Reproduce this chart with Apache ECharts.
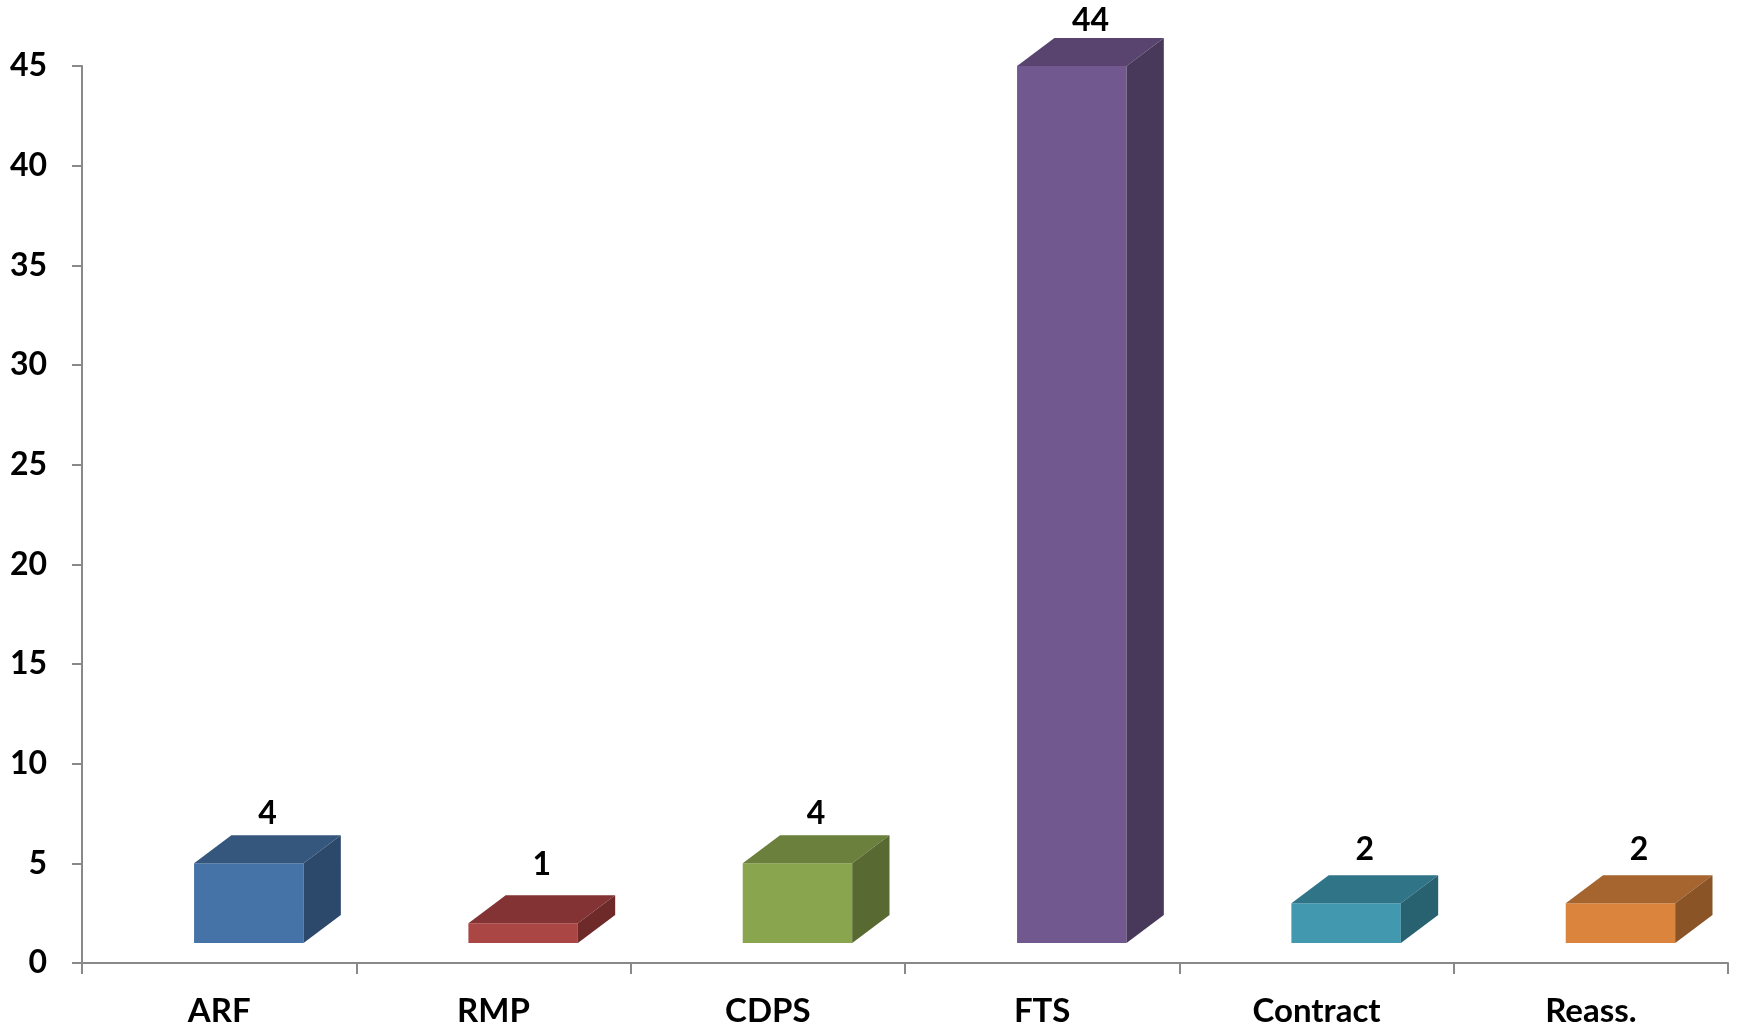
<!DOCTYPE html>
<html>
<head>
<meta charset="utf-8">
<script src="https://cdn.jsdelivr.net/npm/echarts@6/dist/echarts.min.js"></script>
<style>
html,body{margin:0;padding:0;background:#fff;}
#chart{width:1739px;height:1029px;}
</style>
</head>
<body>
<div id="chart"></div>
<script>
const categories = ['ARF', 'RMP', 'CDPS', 'FTS', 'Contract', 'Reass.'];
const values = [4, 1, 4, 44, 2, 2];
const yTicks = [0, 5, 10, 15, 20, 25, 30, 35, 40, 45];

const frontColors = ['#4572A7', '#AA4643', '#89A54E', '#71588F', '#4198AF', '#DB843D'];
const topColors   = ['#35577D', '#833333', '#6A803C', '#58446F', '#307587', '#A6642E'];
const sideColors  = ['#2C496C', '#6E2A29', '#586A31', '#48395B', '#28616F', '#8A5427'];

const FONT = 'Lato, "Open Sans", "DejaVu Sans", sans-serif';

const chart = echarts.init(document.getElementById('chart'));

function renderItem(params, api) {
  const i = api.value(0);
  const v = api.value(1);
  const p0 = api.coord([i, 0]);
  const pv = api.coord([i, v]);
  const band = api.size([1, 0])[0];
  const unit = api.size([0, 1])[1];
  const left = p0[0] - band * 0.5 + band * 0.4085;
  const w = band * 0.399;
  const right = left + w;
  const fb = p0[1] - unit;
  const ft = pv[1] - unit;
  const dx = band * 0.136;
  const dy = 28;
  const labelGap = 16.5 + 14 / Math.pow(Math.max(v, 0.5), 0.7);
  return {
    type: 'group',
    children: [
      { type: 'rect', shape: { x: left, y: ft, width: w, height: fb - ft },
        style: { fill: frontColors[i] } },
      { type: 'polygon', shape: { points: [[left, ft], [right, ft], [right + dx, ft - dy], [left + dx, ft - dy]] },
        style: { fill: topColors[i] } },
      { type: 'polygon', shape: { points: [[right, ft], [right + dx, ft - dy], [right + dx, fb - dy], [right, fb]] },
        style: { fill: sideColors[i] } },
      { type: 'text', style: { text: String(v), x: left + (w + dx) / 2, y: ft - dy - labelGap,
        align: 'center', verticalAlign: 'middle', fill: '#000',
        font: 'bold 32px ' + FONT } }
    ]
  };
}

chart.setOption({
  animation: false,
  backgroundColor: '#fff',
  grid: { left: 82, right: 11, top: 66, bottom: 66, containLabel: false },
  xAxis: {
    type: 'category',
    data: categories,
    boundaryGap: true,
    axisLine: { lineStyle: { color: '#898989', width: 2 } },
    axisTick: { show: true, length: 11, lineStyle: { color: '#898989', width: 2 } },
    axisLabel: { margin: 32, color: '#000', fontFamily: FONT, fontWeight: 'bold', fontSize: 33 },
    splitLine: { show: false }
  },
  yAxis: {
    type: 'value',
    min: yTicks[0],
    max: yTicks[yTicks.length - 1],
    interval: yTicks[1] - yTicks[0],
    axisLine: { show: true, lineStyle: { color: '#898989', width: 2 } },
    axisTick: { show: true, length: 10, lineStyle: { color: '#898989', width: 2 } },
    axisLabel: { margin: 35, color: '#000', fontFamily: FONT, fontWeight: 'bold', fontSize: 32 },
    splitLine: { show: false }
  },
  series: [{
    type: 'custom',
    renderItem: renderItem,
    clip: false,
    data: categories.map((c, i) => [i, values[i]])
  }]
});
</script>
</body>
</html>
